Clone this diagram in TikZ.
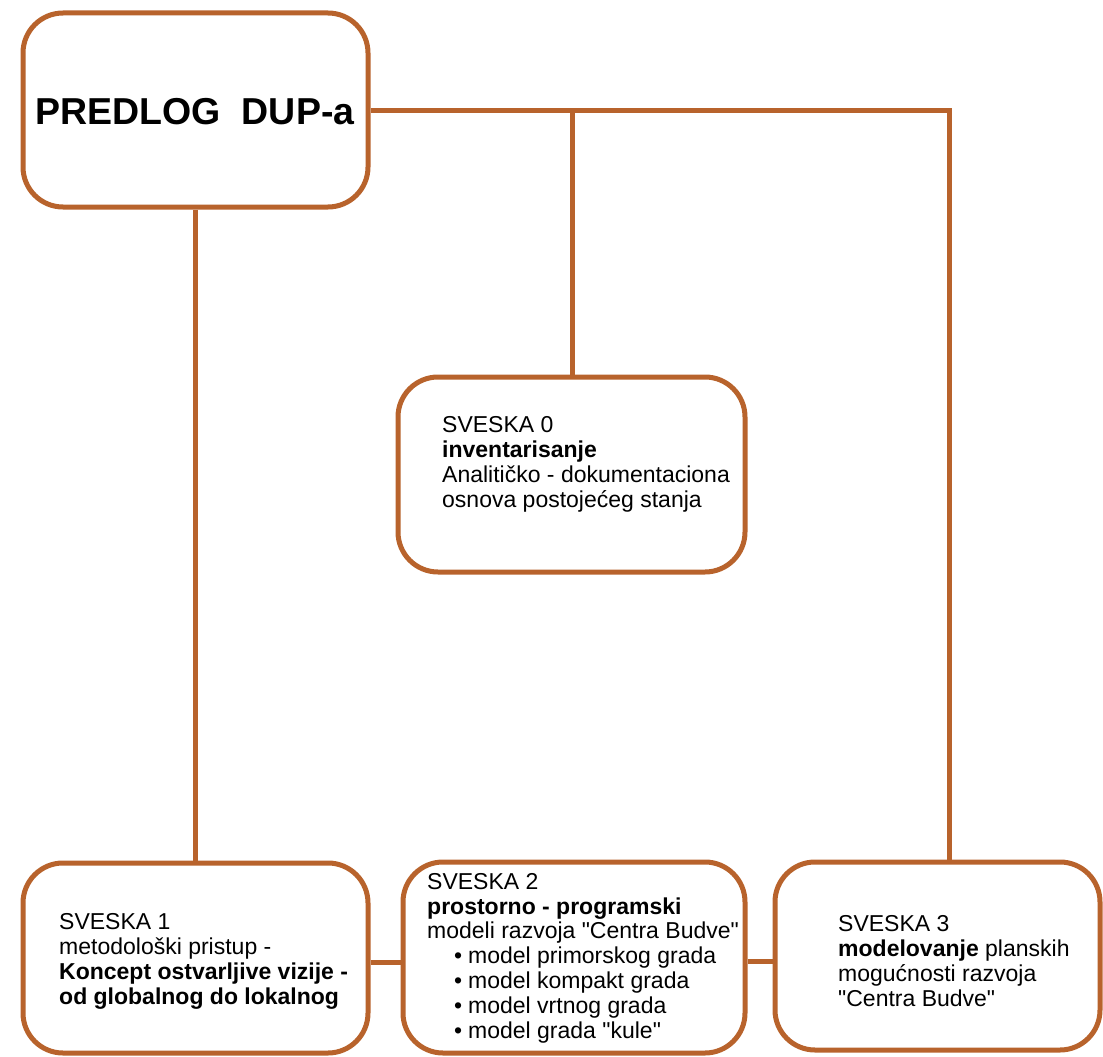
\documentclass[tikz,border=0pt]{standalone}
\usepackage{fontspec}
\setmainfont{Liberation Sans}[Ligatures=TeXOff]
\definecolor{brn}{RGB}{184,99,44}
\begin{document}
\begin{tikzpicture}[x=1pt,y=-1pt,
  box/.style={draw=brn, line width=5pt, rounded corners=40pt, fill=white, inner sep=0pt},
  conn/.style={draw=brn, line width=5pt},
  txt/.style={anchor=base west, inner sep=0pt, align=left, font=\fontsize{23}{24.8}\selectfont}]
\useasboundingbox (0,0) rectangle (1103,1057);
\node[box, minimum width=345pt, minimum height=194pt] (top) at (195.5,110) {};
\node[box, minimum width=347pt, minimum height=195pt] (s0) at (571.5,474.5) {};
\node[box, minimum width=345pt, minimum height=190pt] (s1) at (195.5,958) {};
\node[box, minimum width=342pt, minimum height=191pt] (s2) at (574,957.5) {};
\node[box, minimum width=325pt, minimum height=188pt] (s3) at (937.5,956) {};
\coordinate (c3) at (949,110);
\coordinate (c0) at (572,110);
\draw[conn] (top.east) -- (c3) -- (c3 |- s3.north);
\draw[conn] (c0) -- (c0 |- s0.north);
\draw[conn] (top.south) -- (s1.north);
\draw[conn] ([yshift=-4pt]s1.east) -- ([yshift=-4pt]s1.east -| s2.west);
\draw[conn] ([yshift=-4pt]s2.east) -- ([yshift=-4pt]s2.east -| s3.west);
\node[anchor=base, inner sep=0pt, font=\fontsize{37.5}{40}\selectfont\bfseries] (tt) at (195,124) {PREDLOG\ \ DUP-a};
\node[txt] (t0) at (442,507) {SVESKA 0\\\textbf{inventarisanje}\\Analitičko - dokumentaciona\\osnova postojećeg stanja};
\node[txt] (t1) at (59,1004) {SVESKA 1\\metodološki pristup -\\\textbf{Koncept ostvarljive vizije -}\\\textbf{od globalnog do lokalnog}};
\node[txt] (t2) at (427,1038) {SVESKA 2\\\textbf{prostorno - programski}\\modeli razvoja "Centra Budve"\\\hspace*{41pt}\llap{•\hspace{6pt}}model primorskog grada\\\hspace*{41pt}\llap{•\hspace{6pt}}model kompakt grada\\\hspace*{41pt}\llap{•\hspace{6pt}}model vrtnog grada\\\hspace*{41pt}\llap{•\hspace{6pt}}model grada "kule"};
\node[txt] (t3) at (838,1006) {SVESKA 3\\\textbf{modelovanje} planskih\\mogućnosti razvoja\\"Centra Budve"};
\end{tikzpicture}
\end{document}
